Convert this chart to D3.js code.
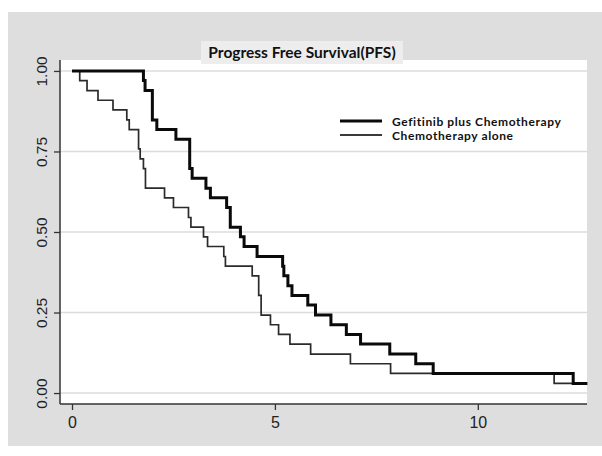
<!DOCTYPE html>
<html>
<head>
<meta charset="utf-8">
<script src="https://cdn.jsdelivr.net/npm/d3@7"></script>
<style>
  body { margin: 0; background: #fff; }
  svg { display: block; }
</style>
</head>
<body>
<script>
  // Kaplan-Meier steps (time in months, survival after the drop)
  var gefTimes = [0, 1.76, 1.80, 1.98, 2.09, 2.56, 2.90, 2.96, 3.30, 3.41, 3.81, 3.90, 4.15, 4.24, 4.56, 5.19, 5.22, 5.32, 5.42, 5.81, 6.00, 6.38, 6.76, 7.11, 7.83, 8.47, 8.90, 12.35, 12.70];
  var gefSurv  = [1.0, 0.970, 0.939, 0.848, 0.818, 0.788, 0.697, 0.667, 0.636, 0.606, 0.576, 0.515, 0.485, 0.455, 0.424, 0.394, 0.364, 0.333, 0.303, 0.273, 0.242, 0.212, 0.182, 0.152, 0.121, 0.091, 0.061, 0.030, 0.030];

  var chemoTimes = [0, 0.19, 0.37, 0.64, 1.01, 1.35, 1.41, 1.64, 1.68, 1.76, 1.81, 2.28, 2.50, 2.87, 2.93, 3.24, 3.34, 3.74, 3.78, 4.44, 4.60, 4.66, 4.89, 5.09, 5.37, 5.88, 6.86, 7.85, 11.88, 12.35];
  var chemoSurv  = [1.0, 0.970, 0.939, 0.909, 0.879, 0.848, 0.818, 0.758, 0.727, 0.697, 0.636, 0.606, 0.576, 0.545, 0.515, 0.485, 0.455, 0.424, 0.394, 0.364, 0.303, 0.242, 0.212, 0.182, 0.152, 0.121, 0.091, 0.061, 0.030, 0.030];

  var xTicks = [0, 5, 10];
  var yTicks = [0, 0.25, 0.5, 0.75, 1];
  var seriesNames = ['Gefitinib plus Chemotherapy', 'Chemotherapy alone'];
  var chartTitle = 'Progress Free Survival(PFS)';

  var W = 602, H = 456;
  var plot = {left: 60, right: 587, top: 60, bottom: 404};

  var svg = d3.select('body').append('svg')
      .attr('width', W).attr('height', H);

  // grey outer panel
  svg.append('rect').attr('x', 8).attr('y', 12)
     .attr('width', W - 8).attr('height', 434)
     .attr('fill', '#dedede');

  // white plot region
  svg.append('rect').attr('x', plot.left).attr('y', plot.top)
     .attr('width', plot.right - plot.left).attr('height', plot.bottom - plot.top)
     .attr('fill', '#fff');

  var x = d3.scaleLinear().domain([-0.296, 12.69]).range([plot.left, plot.right]);
  var y = d3.scaleLinear().domain([-0.034, 1.034]).range([plot.bottom, plot.top]);

  // horizontal grid
  svg.append('g').selectAll('line').data(yTicks).enter().append('line')
     .attr('x1', plot.left).attr('x2', plot.right)
     .attr('y1', function(d) { return y(d); })
     .attr('y2', function(d) { return y(d); })
     .attr('stroke', '#dcdcdc').attr('stroke-width', 1.5);

  // axes
  var yAxis = svg.append('g')
      .attr('transform', 'translate(' + plot.left + ',0)')
      .call(d3.axisLeft(y).tickValues(yTicks).tickFormat(d3.format('.2f')).tickSize(6).tickSizeOuter(0));
  yAxis.select('.domain').attr('stroke', '#333').attr('stroke-width', 1.5)
      .attr('d', 'M0,' + plot.top + 'V' + plot.bottom);
  yAxis.selectAll('.tick line').attr('stroke', '#333').attr('stroke-width', 1.3);
  yAxis.selectAll('.tick text')
      .attr('font-family', 'Liberation Sans, Arial, sans-serif')
      .attr('font-size', 15.5).attr('fill', '#222')
      .attr('x', null).attr('dy', null)
      .attr('text-anchor', 'middle')
      .attr('transform', 'translate(-15,0) rotate(-90)')
      .attr('y', 0).attr('dy', '0.1em');

  var xAxis = svg.append('g')
      .attr('transform', 'translate(0,' + plot.bottom + ')')
      .call(d3.axisBottom(x).tickValues(xTicks).tickFormat(d3.format('d')).tickSize(6).tickSizeOuter(0));
  xAxis.select('.domain').attr('stroke', '#333').attr('stroke-width', 1.5)
      .attr('d', 'M' + plot.left + ',0H' + plot.right);
  xAxis.selectAll('.tick line').attr('stroke', '#333').attr('stroke-width', 1.3);
  xAxis.selectAll('.tick text')
      .attr('font-family', 'Liberation Sans, Arial, sans-serif')
      .attr('font-size', 16).attr('fill', '#222')
      .attr('y', 13);

  // survival curves
  var line = d3.line()
      .x(function(d) { return x(d[0]); })
      .y(function(d) { return y(d[1]); })
      .curve(d3.curveStepAfter);

  var chemoPts = chemoTimes.map(function(t, i) { return [t, chemoSurv[i]]; });
  var gefPts = gefTimes.map(function(t, i) { return [t, gefSurv[i]]; });

  svg.append('path').datum(chemoPts).attr('d', line)
     .attr('fill', 'none').attr('stroke', '#2b2b2b').attr('stroke-width', 1.7);
  svg.append('path').datum(gefPts).attr('d', line)
     .attr('fill', 'none').attr('stroke', '#0a0a0a').attr('stroke-width', 3);

  // title box
  svg.append('rect').attr('x', 201).attr('y', 41).attr('width', 202).attr('height', 23)
     .attr('fill', '#ededed');
  svg.append('text').attr('x', 302).attr('y', 58)
     .attr('text-anchor', 'middle')
     .attr('font-family', 'Lato, sans-serif').attr('font-weight', 'bold')
     .attr('font-size', 15.5).attr('fill', '#111')
     .text(chartTitle);

  // legend
  var legend = svg.append('g');
  var legStroke = [{w: 3, c: '#0a0a0a'}, {w: 2, c: '#3a3a3a'}];
  seriesNames.forEach(function(name, i) {
    var ly = 121 + i * 14;
    legend.append('line').attr('x1', 340).attr('x2', 382)
        .attr('y1', ly).attr('y2', ly)
        .attr('stroke', legStroke[i].c).attr('stroke-width', legStroke[i].w);
    legend.append('text').attr('x', 392).attr('y', ly + 4.5)
        .attr('font-family', 'Lato, sans-serif').attr('font-weight', 'bold')
        .attr('font-size', 12).attr('letter-spacing', 0.6).attr('fill', '#111')
        .text(name);
  });
</script>
</body>
</html>
